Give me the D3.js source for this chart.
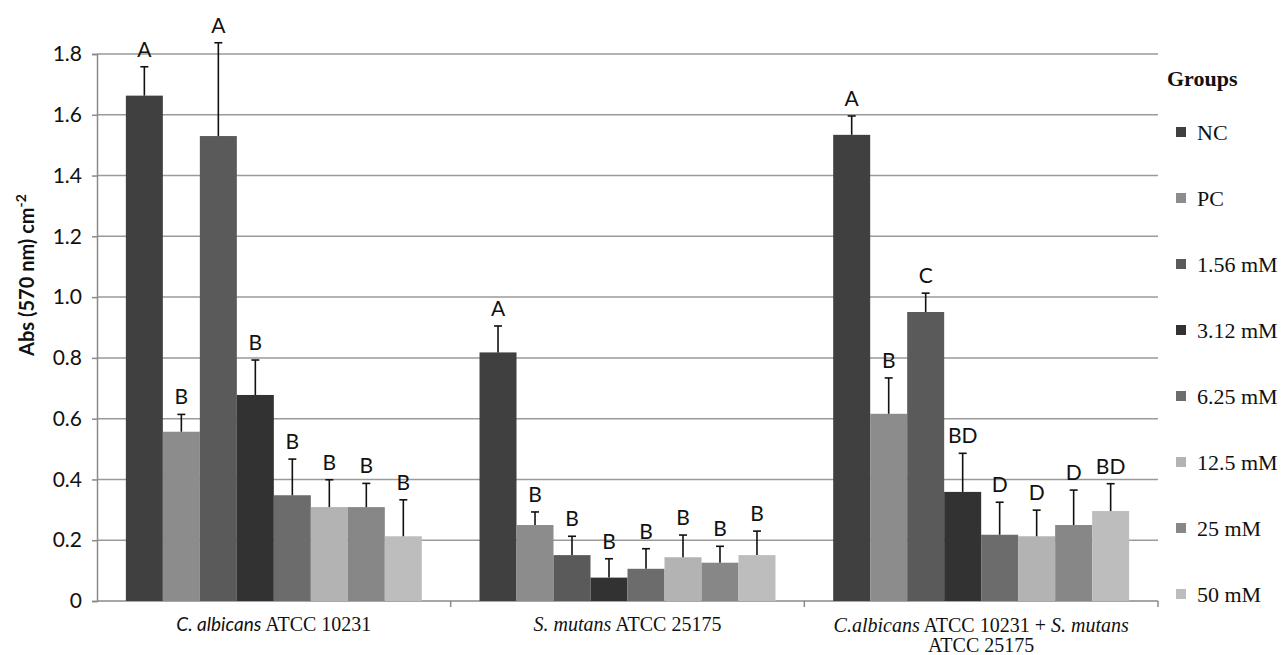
<!DOCTYPE html>
<html lang="en">
<head>
<meta charset="UTF-8">
<title>Abs (570 nm) by group</title>
<style>
    html, body { margin: 0; padding: 0; background: #fff; }
    svg { display: block; }
    .grid line { stroke: #9a9a9a; stroke-width: 1.5px; }
    .tick-lbl { font-family: Lato, "Open Sans", sans-serif; font-size: 21px; fill: #111; }
    .letter { font-family: Lato, "Open Sans", sans-serif; font-size: 21px; fill: #111; text-anchor: middle; }
    .xlbl { font-family: "Liberation Serif", "DejaVu Serif", serif; font-size: 20px; fill: #111; text-anchor: middle; }
    .leg { font-family: "Liberation Serif", "DejaVu Serif", serif; font-size: 22px; fill: #111; }
</style>
</head>
<body>
<svg width="1287" height="655"></svg>
<script src="https://d3js.org/d3.v7.min.js"></script>
<script>
    // categories (x groups) and series (legend)
    const groups = ["calb", "smut", "mixed"];
    const series = ["NC", "PC", "1.56 mM", "3.12 mM", "6.25 mM", "12.5 mM", "25 mM", "50 mM"];
    const colors = ["#404040", "#8c8c8c", "#5a5a5a", "#323232", "#6c6c6c", "#b3b3b3", "#878787", "#bdbdbd"];

    // mean values per group, one entry per series
    const calbValues  = [1.663, 0.557, 1.530, 0.678, 0.348, 0.309, 0.309, 0.213];
    const smutValues  = [0.818, 0.250, 0.151, 0.077, 0.106, 0.144, 0.126, 0.151];
    const mixedValues = [1.534, 0.616, 0.951, 0.359, 0.218, 0.213, 0.250, 0.296];

    // error (upper) per group
    const calbErr  = [0.095, 0.057, 0.307, 0.115, 0.119, 0.090, 0.078, 0.120];
    const smutErr  = [0.087, 0.043, 0.062, 0.062, 0.066, 0.073, 0.054, 0.079];
    const mixedErr = [0.062, 0.118, 0.062, 0.127, 0.107, 0.086, 0.115, 0.090];

    // significance letters
    const calbLetters  = ["A", "B", "A", "B", "B", "B", "B", "B"];
    const smutLetters  = ["A", "B", "B", "B", "B", "B", "B", "B"];
    const mixedLetters = ["A", "B", "C", "BD", "D", "D", "D", "BD"];

    const yTicks = [0, 0.2, 0.4, 0.6, 0.8, 1.0, 1.2, 1.4, 1.6, 1.8];

    const valuesBy = { calb: calbValues, smut: smutValues, mixed: mixedValues };
    const errBy = { calb: calbErr, smut: smutErr, mixed: mixedErr };
    const lettersBy = { calb: calbLetters, smut: smutLetters, mixed: mixedLetters };

    const svg = d3.select("svg");
    const mLeft = 97, mRight = 1158, mTop = 54, mBottom = 601;

    const x0 = d3.scaleBand().domain(groups).range([mLeft, mRight]).padding(0);
    const x1 = d3.scaleBand().domain(series).range([0, x0.bandwidth()])
        .paddingInner(0).paddingOuter(0.78);
    const y = d3.scaleLinear().domain([0, 1.8]).range([mBottom, mTop]);
    const color = d3.scaleOrdinal().domain(series).range(colors);

    // gridlines
    svg.append("g").attr("class", "grid")
        .selectAll("line")
        .data(yTicks.slice(1))
        .enter().append("line")
        .attr("x1", mLeft).attr("x2", mRight)
        .attr("y1", d => y(d)).attr("y2", d => y(d));

    // y axis
    const yAxis = svg.append("g")
        .attr("transform", `translate(${mLeft},0)`)
        .call(d3.axisLeft(y).tickValues(yTicks).tickSize(5).tickPadding(10)
            .tickFormat(d => d === 0 ? "0" : d3.format(".1f")(d)));
    yAxis.attr("font-size", null).attr("font-family", null);
    yAxis.select(".domain").attr("stroke", "#8a8a8a").attr("stroke-width", 1.5);
    yAxis.selectAll(".tick line").attr("stroke", "#8a8a8a").attr("stroke-width", 1.5);
    yAxis.selectAll(".tick text").attr("class", "tick-lbl").attr("fill", null);

    // x axis line with ticks between groups
    svg.append("line")
        .attr("x1", mLeft).attr("x2", mRight)
        .attr("y1", mBottom).attr("y2", mBottom)
        .attr("stroke", "#8a8a8a").attr("stroke-width", 1.5);
    svg.append("g").selectAll("line")
        .data(groups.slice(1).map(g => x0(g)).concat([mRight]))
        .enter().append("line")
        .attr("x1", d => d).attr("x2", d => d)
        .attr("y1", mBottom).attr("y2", mBottom + 6)
        .attr("stroke", "#8a8a8a").attr("stroke-width", 1.5);

    // bars
    const rows = [];
    groups.forEach(g => series.forEach((s, i) => rows.push({
        g: g, s: s, v: valuesBy[g][i], e: errBy[g][i], l: lettersBy[g][i]
    })));

    const bar = svg.append("g").selectAll("g")
        .data(rows)
        .enter().append("g")
        .attr("transform", d => `translate(${x0(d.g) + x1(d.s)},0)`);

    bar.append("rect")
        .attr("x", 0)
        .attr("width", x1.bandwidth())
        .attr("y", d => y(d.v))
        .attr("height", d => y(0) - y(d.v))
        .attr("fill", d => color(d.s));

    const cx = x1.bandwidth() / 2;
    bar.append("line")
        .attr("x1", cx).attr("x2", cx)
        .attr("y1", d => y(d.v)).attr("y2", d => y(d.v + d.e))
        .attr("stroke", "#111").attr("stroke-width", 1.6);
    bar.append("line")
        .attr("x1", cx - 4).attr("x2", cx + 4)
        .attr("y1", d => y(d.v + d.e)).attr("y2", d => y(d.v + d.e))
        .attr("stroke", "#111").attr("stroke-width", 1.6);
    bar.append("text")
        .attr("class", "letter")
        .attr("x", cx)
        .attr("y", d => y(d.v + d.e) - 10)
        .text(d => d.l);

    // x labels  [text, style]  style: 0 normal, 1 serif italic, 2 sans italic
    const xl = svg.append("g");
    function lbl(g, yy, parts) {
        const t = xl.append("text").attr("class", "xlbl")
            .attr("x", x0(g) + x0.bandwidth() / 2).attr("y", yy);
        parts.forEach(p => {
            const ts = t.append("tspan").text(p[0]);
            if (p[1]) ts.attr("font-style", "italic");
            if (p[1] === 2) ts.attr("font-family", "Lato, sans-serif").attr("font-size", 19);
        });
    }
    lbl("calb", 631, [["C. albicans", 2], [" ATCC 10231", 0]]);
    lbl("smut", 631, [["S. mutans", 1], [" ATCC 25175", 0]]);
    lbl("mixed", 632, [["C.albicans", 1], [" ATCC 10231 + ", 0], ["S. mutans", 1]]);
    lbl("mixed", 652, [["ATCC 25175", 0]]);

    // y title
    const yt = svg.append("text")
        .attr("transform", "translate(34,275) rotate(-90)")
        .attr("text-anchor", "middle")
        .attr("font-family", "Lato, 'Open Sans', sans-serif")
        .attr("font-size", 20).attr("font-weight", "bold").attr("fill", "#111");
    yt.append("tspan").text("Abs (570 nm) cm");
    yt.append("tspan").attr("dy", -8).attr("font-size", 14).text("-2");

    // legend
    svg.append("text")
        .attr("x", 1167).attr("y", 86)
        .attr("font-family", "'Liberation Serif', serif")
        .attr("font-size", 22).attr("font-weight", "bold").attr("fill", "#111")
        .text("Groups");
    const leg = svg.append("g").selectAll("g")
        .data(series)
        .enter().append("g")
        .attr("transform", (d, i) => `translate(1176,${140 + i * 66})`);
    leg.append("rect")
        .attr("x", 0).attr("y", -13).attr("width", 10).attr("height", 10)
        .attr("fill", d => color(d));
    leg.append("text")
        .attr("class", "leg")
        .attr("x", 21).attr("y", 0)
        .text(d => d);
</script>
</body>
</html>
